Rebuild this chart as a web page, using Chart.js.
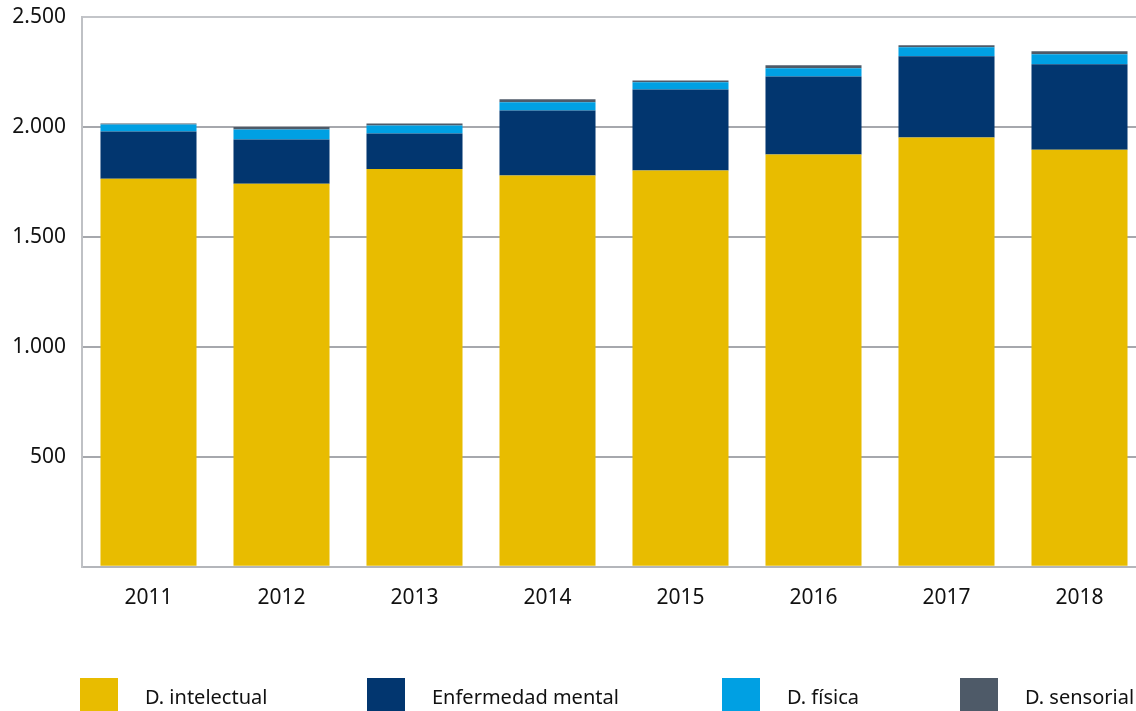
<!DOCTYPE html>
<html>
<head>
<meta charset="utf-8">
<script src="https://cdn.jsdelivr.net/npm/chart.js@4/dist/chart.umd.min.js"></script>
<style>
  html, body { margin: 0; padding: 0; background: #fff; overflow: hidden; }
  #wrap { width: 1136px; height: 711px; position: relative; overflow: hidden; }
</style>
</head>
<body>
<div id="wrap"><canvas id="chart" width="1146" height="711"></canvas></div>
<script>
const years = ['2011', '2012', '2013', '2014', '2015', '2016', '2017', '2018'];
const intelectual = [1765, 1742, 1809, 1779, 1802, 1875, 1952, 1897];
const mental = [214, 201, 161, 296, 369, 355, 370, 388];
const fisica = [32, 46, 37, 37, 32, 37, 41, 46];
const sensorial = [5, 11, 9, 14, 9, 14, 9, 13];
const yTicks = [0, 500, 1000, 1500, 2000, 2500];

const FONT = '"Noto Sans", sans-serif';

// legend drawn on the canvas, spaced like the original
const bottomLegend = {
  id: 'bottomLegend',
  afterDraw(chart) {
    const ctx = chart.ctx;
    const startX = [80, 367, 722, 960];
    ctx.save();
    ctx.font = '20px ' + FONT;
    ctx.textBaseline = 'middle';
    chart.data.datasets.forEach((ds, i) => {
      ctx.fillStyle = ds.backgroundColor;
      ctx.fillRect(startX[i], 678, 38, 34);
      ctx.fillStyle = '#111';
      ctx.fillText(ds.label, startX[i] + 65, 698);
    });
    ctx.restore();
  }
};

new Chart(document.getElementById('chart'), {
  type: 'bar',
  data: {
    labels: years,
    datasets: [
      { label: 'D. intelectual', data: intelectual, backgroundColor: '#e8bc00' },
      { label: 'Enfermedad mental', data: mental, backgroundColor: '#02366f' },
      { label: 'D. física', data: fisica, backgroundColor: '#00a0e3' },
      { label: 'D. sensorial', data: sensorial, backgroundColor: '#4e5a68' }
    ]
  },
  options: {
    responsive: false,
    animation: false,
    layout: { padding: { top: 8, right: 0, bottom: 81, left: 0 } },
    datasets: { bar: { categoryPercentage: 1, barPercentage: 0.722, borderWidth: 0 } },
    plugins: { legend: { display: false }, tooltip: { enabled: false } },
    scales: {
      x: {
        stacked: true,
        grid: { display: false, drawTicks: false },
        border: { color: '#b4b6bb', width: 2 },
        ticks: { color: '#111', font: { family: FONT, size: 21 }, padding: 19 }
      },
      y: {
        stacked: true,
        min: 0,
        max: 2500,
        afterBuildTicks(axis) { axis.ticks = yTicks.map(v => ({ value: v })); },
        afterFit(axis) { axis.width = 82; },
        grid: {
          drawTicks: false,
          color: ctx => (ctx.tick && ctx.tick.value === 2500 ? '#c3c5c9' : '#a6a8ad'),
          lineWidth: 2
        },
        border: { color: '#bfc1c5', width: 2 },
        ticks: {
          color: '#111',
          // tiny lineHeight keeps the top label from pushing the plot down
          font: { family: FONT, size: 21, lineHeight: 0.1 },
          padding: 16,
          callback: v => (v === 0 ? '' : v.toLocaleString('de-DE'))
        }
      }
    }
  },
  plugins: [bottomLegend]
});
</script>
</body>
</html>
